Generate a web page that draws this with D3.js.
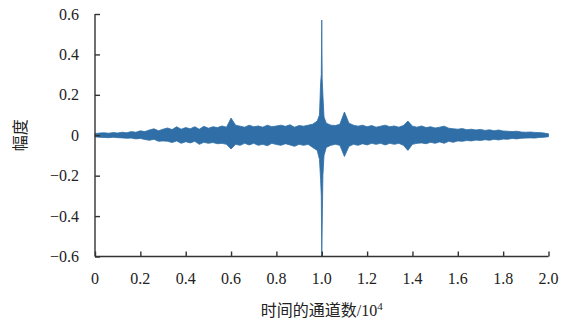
<!DOCTYPE html>
<html>
<head>
<meta charset="utf-8">
<script src="https://cdn.jsdelivr.net/npm/d3@7"></script>
<style>
  body { margin: 0; background: #fff; }
  text { font-family: "Liberation Serif", "Times New Roman", "Noto Sans CJK SC", serif; fill: #222; }
</style>
</head>
<body>
<div id="chart"></div>
<script>
// channel positions (x 10^4), upper and lower envelope of the amplitude
var channels = [0, 0.02, 0.04, 0.06, 0.08, 0.1, 0.12, 0.14, 0.16, 0.18, 0.2,
  0.22, 0.24, 0.26, 0.28, 0.3, 0.32, 0.34, 0.36, 0.38, 0.4,
  0.42, 0.44, 0.46, 0.48, 0.5, 0.52, 0.54, 0.56, 0.58, 0.6,
  0.62, 0.64, 0.66, 0.68, 0.7, 0.72, 0.74, 0.76, 0.78, 0.8,
  0.82, 0.84, 0.86, 0.88, 0.9, 0.92, 0.94, 0.96, 0.98, 0.99,
  0.995, 0.998, 1.0, 1.002, 1.005, 1.01, 1.02, 1.04, 1.06, 1.08,
  1.1, 1.12, 1.14, 1.16, 1.18, 1.2, 1.22, 1.24, 1.26, 1.28,
  1.3, 1.32, 1.34, 1.36, 1.38, 1.4, 1.42, 1.44, 1.46, 1.48,
  1.5, 1.52, 1.54, 1.56, 1.58, 1.6, 1.62, 1.64, 1.66, 1.68,
  1.7, 1.72, 1.74, 1.76, 1.78, 1.8, 1.82, 1.84, 1.86, 1.88,
  1.9, 1.92, 1.94, 1.96, 1.98, 2.0];

var upper = [0.008, 0.011, 0.012, 0.01, 0.013, 0.011, 0.015, 0.012, 0.018, 0.015, 0.022,
  0.018, 0.026, 0.032, 0.022, 0.03, 0.036, 0.028, 0.042, 0.03, 0.038,
  0.032, 0.042, 0.03, 0.044, 0.035, 0.042, 0.038, 0.046, 0.04, 0.085,
  0.05, 0.045, 0.04, 0.05, 0.042, 0.046, 0.04, 0.05, 0.042, 0.046,
  0.05, 0.044, 0.052, 0.04, 0.048, 0.045, 0.05, 0.055, 0.07, 0.1,
  0.26, 0.3, 0.57, 0.28, 0.2, 0.09, 0.06, 0.05, 0.048, 0.055,
  0.115, 0.06, 0.05, 0.045, 0.05, 0.042, 0.048, 0.04, 0.045, 0.05,
  0.042, 0.046, 0.04, 0.048, 0.07, 0.045, 0.04, 0.046, 0.038, 0.042,
  0.036, 0.04, 0.045, 0.035, 0.032, 0.03, 0.033, 0.027, 0.03, 0.026,
  0.029, 0.024, 0.027, 0.022, 0.026, 0.021, 0.02, 0.018, 0.02, 0.016,
  0.015, 0.016, 0.014, 0.013, 0.011, 0.007];

var lower = [-0.008, -0.01, -0.011, -0.012, -0.01, -0.012, -0.013, -0.015, -0.014, -0.018, -0.016,
  -0.021, -0.025, -0.02, -0.03, -0.028, -0.03, -0.036, -0.028, -0.04, -0.032,
  -0.038, -0.03, -0.045, -0.035, -0.04, -0.036, -0.042, -0.04, -0.045, -0.068,
  -0.045, -0.05, -0.04, -0.048, -0.04, -0.05, -0.045, -0.052, -0.04, -0.046,
  -0.05, -0.042, -0.048, -0.055, -0.045, -0.05, -0.045, -0.06, -0.075, -0.12,
  -0.22, -0.3, -0.6, -0.45, -0.2, -0.1, -0.06, -0.05, -0.045, -0.05,
  -0.105, -0.055, -0.045, -0.05, -0.042, -0.048, -0.04, -0.045, -0.04, -0.048,
  -0.04, -0.045, -0.04, -0.05, -0.075, -0.045, -0.04, -0.038, -0.042, -0.035,
  -0.04, -0.033, -0.04, -0.03, -0.035, -0.028, -0.03, -0.026, -0.028, -0.024,
  -0.026, -0.022, -0.025, -0.02, -0.023, -0.019, -0.02, -0.016, -0.018, -0.015,
  -0.014, -0.013, -0.014, -0.011, -0.01, -0.007];

var xTicks = [0, 0.2, 0.4, 0.6, 0.8, 1.0, 1.2, 1.4, 1.6, 1.8, 2.0];
var yTicks = [-0.6, -0.4, -0.2, 0, 0.2, 0.4, 0.6];

var width = 573, height = 323;
var margin = { top: 14, right: 25, bottom: 67, left: 95 };

var svg = d3.select("#chart").append("svg")
  .attr("width", width)
  .attr("height", height);

var x = d3.scaleLinear().domain([0, 2]).range([margin.left, width - margin.right + 0.5]);
var y = d3.scaleLinear().domain([-0.6, 0.6]).range([height - margin.bottom + 0.5, margin.top]);

var signal = channels.map(function (c, i) {
  return { c: c, hi: upper[i], lo: lower[i] };
});

var area = d3.area()
  .x(function (d) { return x(d.c); })
  .y0(function (d) { return y(d.lo); })
  .y1(function (d) { return y(d.hi); });

svg.append("path")
  .datum(signal)
  .attr("d", area)
  .style("fill", "#2f6ea6")
  .style("stroke", "#2f6ea6")
  .style("stroke-width", 0.8);

// Y axis
var yAxis = svg.append("g")
  .attr("transform", "translate(" + x(0) + ",0)")
  .call(d3.axisRight(y).tickValues(yTicks).tickSize(5).tickFormat(""));
yAxis.select(".domain").attr("d", "M0," + y(0.6) + "V" + y(-0.6));

svg.selectAll(".ylab")
  .data(yTicks)
  .enter().append("text")
  .attr("class", "ylab")
  .attr("x", 79)
  .attr("y", function (d) { return y(d) + 5.5; })
  .style("text-anchor", "end")
  .style("font-size", "16px")
  .text(function (d) { return d === 0 ? "0" : d3.format(".1f")(d).replace("-", "\u2212"); });

// X axis
var xAxis = svg.append("g")
  .attr("transform", "translate(0," + y(-0.6) + ")")
  .call(d3.axisTop(x).tickValues(xTicks).tickSize(5).tickFormat(""));
xAxis.select(".domain").attr("d", "M" + x(0) + ",0H" + x(2));

svg.selectAll(".xlab")
  .data(xTicks)
  .enter().append("text")
  .attr("class", "xlab")
  .attr("x", function (d) { return x(d); })
  .attr("y", 284)
  .style("text-anchor", "middle")
  .style("font-size", "16px")
  .text(function (d) { return d === 0 ? "0" : d3.format(".1f")(d); });

svg.selectAll(".domain, .tick line")
  .style("stroke", "#333")
  .style("stroke-width", 1.4);

// axis titles
var xt = svg.append("text")
  .attr("x", (x(0) + x(2)) / 2)
  .attr("y", 316)
  .style("text-anchor", "middle")
  .style("font-size", "16px");
xt.append("tspan").text("时间的通道数/10");
xt.append("tspan").attr("dy", -6).style("font-size", "11px").text("4");

svg.append("text")
  .attr("transform", "translate(26," + ((y(0.6) + y(-0.6)) / 2) + ") rotate(-90)")
  .style("text-anchor", "middle")
  .style("font-size", "16px")
  .text("幅度");
</script>
</body>
</html>
